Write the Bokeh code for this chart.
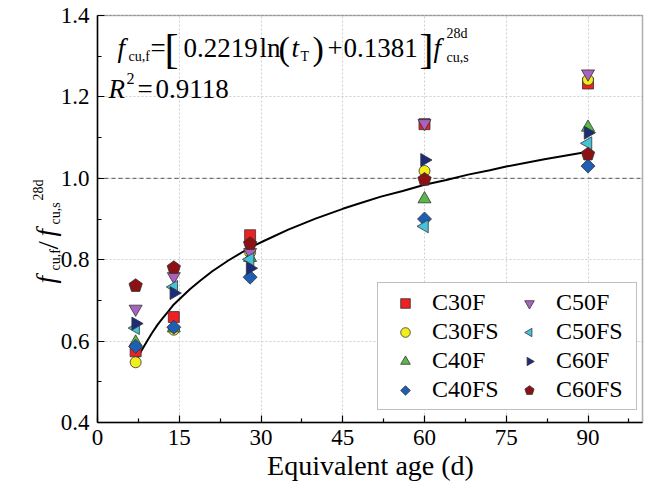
import math
from bokeh.plotting import figure
from bokeh.models import (Range1d, Label, Legend, LegendItem, ColumnDataSource,
                          FixedTicker, CustomJSTickFormatter, BoxAnnotation, Grid)
from bokeh.embed import file_html
from bokeh.resources import INLINE

# ---------------- data ----------------
ages = [7, 14, 28, 60, 90]
series_names = ["C30F", "C30FS", "C40F", "C40FS", "C50F", "C50FS", "C60F", "C60FS"]
C30F = [0.575, 0.659, 0.860, 1.133, 1.233]
C30FS = [0.548, 0.628, 0.818, 1.018, 1.242]
C40F = [0.597, 0.632, 0.805, 0.949, 1.125]
C40FS = [0.587, 0.634, 0.757, 0.900, 1.030]
C50F = [0.679, 0.759, 0.818, 1.135, 1.257]
C50FS = [0.632, 0.733, 0.801, 0.882, 1.086]
C60F = [0.643, 0.718, 0.779, 1.045, 1.112]
C60FS = [0.736, 0.780, 0.839, 0.997, 1.059]
series_values = [C30F, C30FS, C40F, C40FS, C50F, C50FS, C60F, C60FS]

# fitted curve
fit_t = [7, 7.5, 8, 9, 10, 11, 12, 13, 14, 15.5, 17, 19, 21, 24, 28, 31, 35, 40, 45,
         48, 52, 56, 60, 64, 68, 72, 75, 82, 86, 90]
fit_y = [0.548, 0.562, 0.575, 0.598, 0.620, 0.640, 0.657, 0.673, 0.690, 0.709, 0.728,
         0.750, 0.771, 0.798, 0.830, 0.849, 0.874, 0.901, 0.925, 0.938, 0.955, 0.969,
         0.984, 0.996, 1.009, 1.020, 1.029, 1.047, 1.056, 1.065]

x_limits = [0, 100]
y_limits = [0.4, 1.4]
ref_level = 1.0
x_ticks = [0, 15, 30, 45, 60, 75, 90]
x_minor = [7.5, 22.5, 37.5, 52.5, 67.5, 82.5, 97.5]
y_ticks = [0.4, 0.6, 0.8, 1.0, 1.2, 1.4]
y_minor = [0.5, 0.7, 0.9, 1.1, 1.3]

# ---------------- styles / layout ----------------
W, H = 651, 484
ML, MR, MT, MB = 97, 9, 15, 62          # plot box margins in page pixels
FONT = "Liberation Serif"
colors = ["#ED2024", "#F2EE1C", "#5BB848", "#1E5EB5", "#A963BE", "#45C3D8", "#1B2D78", "#8B1114"]
# (kind, marker/sides, angle, size)
shapes = [("scatter", "square", 0, 11),
          ("scatter", "circle", 0, 11),
          ("scatter", "triangle", 0, 13),
          ("ngon", 4, 0, 7),
          ("scatter", "inverted_triangle", 0, 13),
          ("ngon", 3, math.pi / 2, 7.5),
          ("ngon", 3, -math.pi / 2, 7.5),
          ("ngon", 5, 0, 7)]

xs = (x_limits[1] - x_limits[0]) / (W - ML - MR)
ys = (y_limits[1] - y_limits[0]) / (H - MT - MB)
p = figure(width=W, height=H, output_backend="svg", toolbar_location=None,
           x_range=Range1d(x_limits[0] - ML * xs, x_limits[1] + MR * xs),
           y_range=Range1d(y_limits[0] - MB * ys, y_limits[1] + MT * ys))
p.min_border = 0
p.min_border_left = 0
p.min_border_right = 0
p.min_border_top = 0
p.min_border_bottom = 0
p.title.visible = False
p.background_fill_color = "white"
p.border_fill_color = "white"
p.outline_line_color = None

xa, ya = p.xaxis[0], p.yaxis[0]
xa.fixed_location = y_limits[0]
ya.fixed_location = x_limits[0]
xa.bounds = tuple(x_limits)
ya.bounds = tuple(y_limits)
for ax in (xa, ya):
    ax.axis_line_color = "black"
    ax.axis_line_width = 1.5
    ax.major_tick_in = 7
    ax.major_tick_out = 0
    ax.minor_tick_in = 4
    ax.minor_tick_out = 0
    ax.major_tick_line_color = "black"
    ax.minor_tick_line_color = "black"
    ax.major_tick_line_width = 1.2
    ax.minor_tick_line_width = 1.2
    ax.major_label_text_font = FONT
    ax.major_label_text_font_size = "23px"
    ax.major_label_text_color = "black"
xa.ticker = FixedTicker(ticks=x_ticks, minor_ticks=x_minor)
ya.ticker = FixedTicker(ticks=y_ticks, minor_ticks=y_minor)
xa.major_label_standoff = 7
ya.major_label_standoff = 8
ya.formatter = CustomJSTickFormatter(code="return tick.toFixed(1);")

# grid
grid_style = dict(line_color="#cfcfcf", line_dash="2 2", line_width=1)
xg, yg = p.xgrid[0], p.ygrid[0]
if "cross_bounds" in Grid.properties():
    xg.ticker = xa.ticker
    yg.ticker = ya.ticker
    xg.bounds = tuple(x_limits)
    yg.bounds = tuple(y_limits)
    xg.cross_bounds = tuple(y_limits)
    yg.cross_bounds = tuple(x_limits)
    for g in (xg, yg):
        g.grid_line_color = grid_style["line_color"]
        g.grid_line_dash = grid_style["line_dash"]
        g.grid_line_width = grid_style["line_width"]
else:
    xg.visible = False
    yg.visible = False
    p.segment(x0=x_ticks, y0=[y_limits[0]] * len(x_ticks), x1=x_ticks,
              y1=[y_limits[1]] * len(x_ticks), **grid_style)
    p.segment(x0=[x_limits[0]] * len(y_ticks), y0=y_ticks, x1=[x_limits[1]] * len(y_ticks),
              y1=y_ticks, **grid_style)

# reference line at 1.0
p.segment(x0=[x_limits[0]], y0=[ref_level], x1=[x_limits[1]], y1=[ref_level],
          line_color="#555555", line_dash="4 3", line_width=1)

# plot box
p.add_layout(BoxAnnotation(left=x_limits[0], right=x_limits[1], bottom=y_limits[0], top=y_limits[1],
                           fill_alpha=0, line_color="black", line_width=1.6))

# fitted curve
p.line(fit_t, fit_y, line_color="black", line_width=2)

items = []
for name, vals, col, (kind, mk, ang, sz) in zip(series_names, series_values, colors, shapes):
    src = ColumnDataSource(dict(x=ages, y=vals))
    if kind == "ngon":
        r = p.ngon(x="x", y="y", radius=sz, radius_units="screen", n=mk, angle=ang,
                   source=src, fill_color=col, line_color="#333333", line_width=0.8)
    else:
        r = p.scatter(x="x", y="y", marker=mk, size=sz, source=src,
                      fill_color=col, line_color="#333333", line_width=0.8)
    items.append(LegendItem(label=name, renderers=[r]))

legend = Legend(items=items, location=(377, MB + 12), orientation="vertical", nrows=4)
legend.label_text_font = FONT
legend.label_text_font_size = "24px"
legend.label_text_color = "black"
legend.border_line_color = "#808080"
legend.border_line_width = 1.2
legend.background_fill_alpha = 1
legend.padding = 6
legend.spacing = 2
legend.glyph_width = 42
legend.glyph_height = 24
legend.label_standoff = 6
legend.label_width = 74
legend.margin = 0
p.add_layout(legend, "center")

K = 0.29  # baseline correction (fraction of font size)


def lab(text, cx, cy, size, italic=False, angle=0.0, align="left"):
    if angle == 0:
        cy = cy - K * size
    else:
        cx = cx - K * size
    p.add_layout(Label(x=cx, y=H - cy, x_units="screen", y_units="screen", text=text,
                       text_font=FONT, text_font_size=f"{size}px",
                       text_font_style="italic" if italic else "normal",
                       text_baseline="alphabetic", text_align=align, angle=angle,
                       text_color="black"))


# formula, line 1
lab("f", 117, 55, 27, italic=True)
lab("cu,f", 128, 60, 14)
lab("=", 150, 55, 27)
lab("[", 164, 61, 42)
lab("0.2219", 183, 55, 27)
lab("ln", 259, 55, 27)
lab("(", 278, 58, 34)
lab("t", 291, 55, 27, italic=True)
lab("T", 300, 60, 14)
lab(")", 312, 58, 34)
lab("+", 327, 55, 27)
lab("0.1381", 343, 55, 27)
lab("]", 419, 61, 42)
lab("f", 433, 55, 27, italic=True)
lab("28d", 446, 37, 14)
lab("cu,s", 446, 61, 14)

# formula, line 2
lab("R", 108, 96, 27, italic=True)
lab("2", 126, 83, 16)
lab("=", 137, 96, 27)
lab("0.9118", 155, 96, 27)

# x axis title
lab("Equivalent age (d)", 370, 473, 28, align="center")

# y axis title (rotated)
V = math.pi / 2
lab("f", 53, 283, 27, italic=True, angle=V)
lab("cu,f", 59, 270, 14, angle=V)
lab("/", 56, 249, 30, angle=V)
lab("f", 53, 236, 27, italic=True, angle=V)
lab("cu,s", 59, 224, 14, angle=V)
lab("28d", 42, 200, 14, angle=V)

open("out.html", "w").write(file_html(p, INLINE))
